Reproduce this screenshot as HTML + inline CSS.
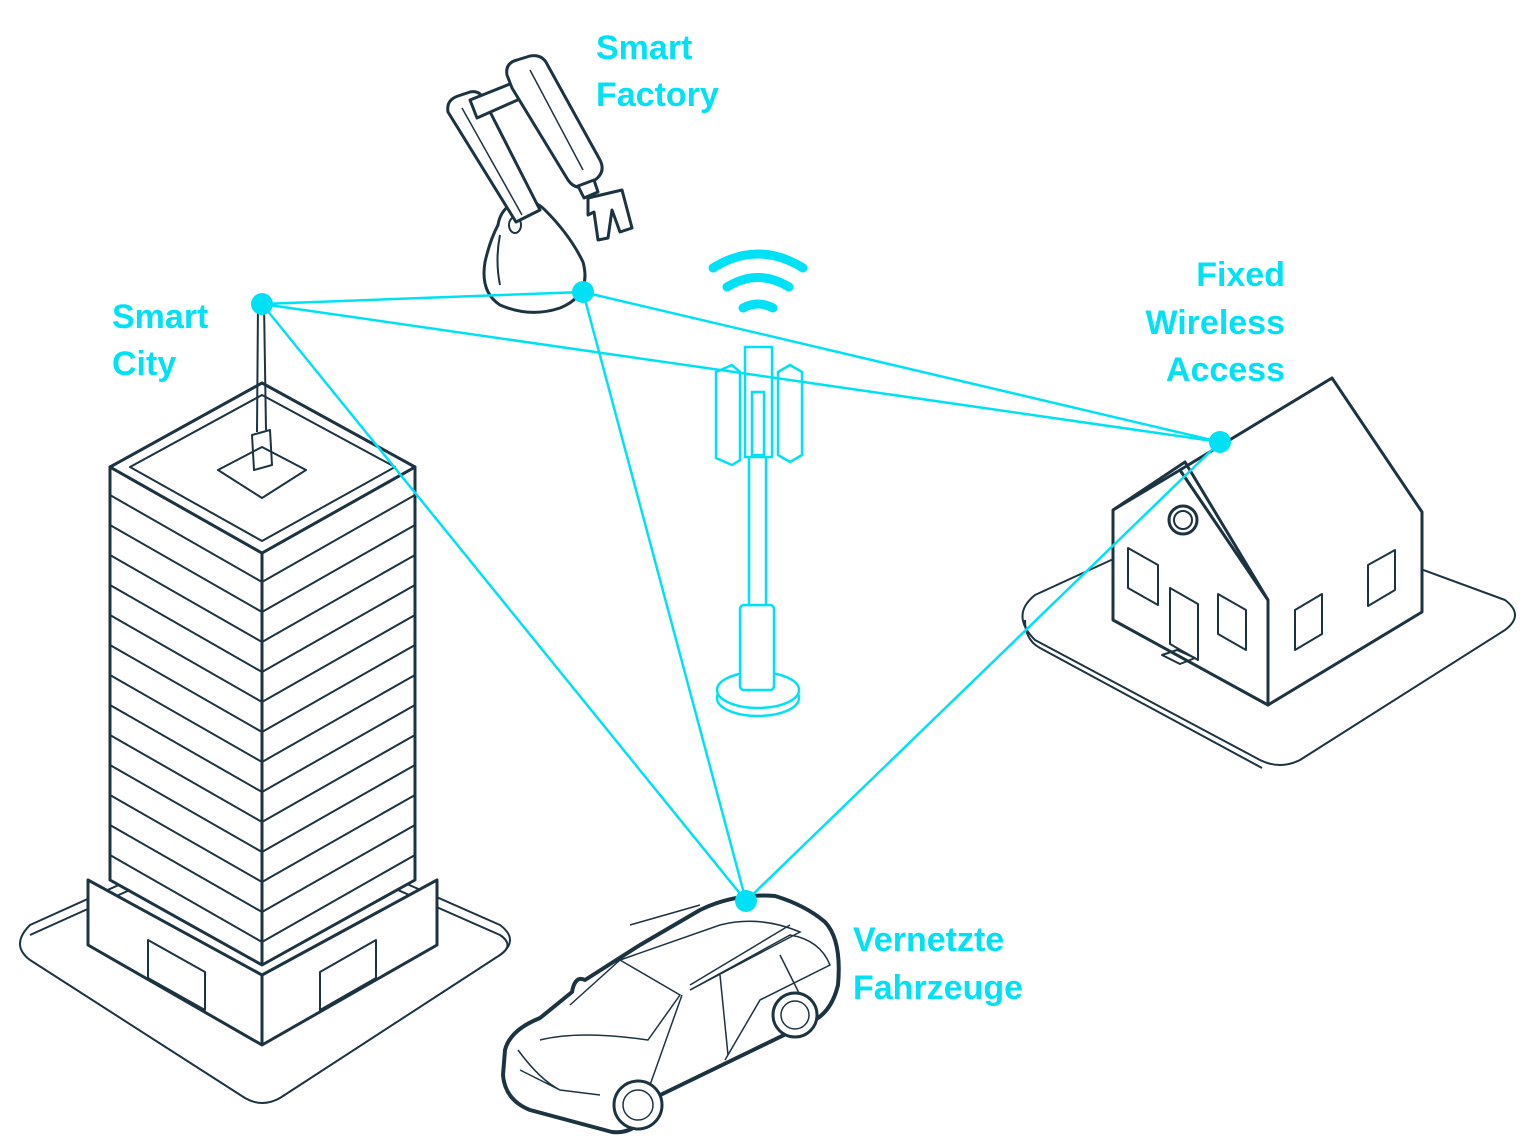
<!DOCTYPE html>
<html><head><meta charset="utf-8"><style>
html,body{margin:0;padding:0;background:#fff;}
svg{display:block}
text{font-family:"Liberation Sans",sans-serif;font-weight:bold;font-size:34px;fill:#00e1f5}
</style></head><body>
<svg width="1527" height="1144" viewBox="0 0 1527 1144" xmlns="http://www.w3.org/2000/svg">
<g fill="none" stroke="#1c3442" stroke-width="3" stroke-linejoin="round">
<!-- city platform -->
<path d="M30,925 L245,828 Q262,820 280,828 L500,925 Q520,940 500,955 L280,1098 Q262,1108 245,1098 L30,960 Q10,945 30,925Z" stroke-width="2"/>
<path d="M30,935 L245,838 Q262,830 280,838 L500,935 Q515,945 500,955" stroke-width="2"/>
<!-- base -->
<path d="M88,880 L262,975 L437,880 L437,945 L262,1045 L88,945Z" fill="#fff"/>
<path d="M262,975 L262,1045"/>
<path d="M148,940 L205,972 L205,1010 L148,978Z M320,972 L376,940 L376,978 L320,1010Z" stroke-width="2"/>
<!-- tower body -->
<path d="M110,467 L262,553 L415,467 L415,880 L262,965 L110,880Z" fill="#fff"/>
<path d="M262,553 L262,965"/>
<g stroke-width="2">
<path d="M110,495 L262,582 L415,495 M110,525 L262,612 L415,525 M110,555 L262,642 L415,555 M110,585 L262,672 L415,585 M110,615 L262,702 L415,615 M110,645 L262,732 L415,645 M110,675 L262,762 L415,675 M110,705 L262,792 L415,705 M110,735 L262,822 L415,735 M110,765 L262,852 L415,765 M110,795 L262,882 L415,795 M110,825 L262,912 L415,825 M110,855 L262,942 L415,855"/>
</g>
<!-- roof -->
<path d="M110,467 L262,383 L415,467 L262,553Z" fill="#fff"/>
<path d="M130,467 L262,395 L395,467 L262,541Z" stroke-width="2"/>
<path d="M218,470 L262,447 L306,470 L262,498Z" stroke-width="2"/>
<path d="M252,435 L270,430 L272,465 L254,470Z" stroke-width="2"/>
<path d="M257,432 L258,304 L264,304 L266,430" stroke-width="2"/>
<!-- house platform -->
<path d="M1035,595 L1220,510 Q1240,502 1260,510 L1505,600 Q1525,615 1505,630 L1300,760 Q1280,770 1260,760 L1035,640 Q1010,615 1035,595Z" stroke-width="2"/>
<path d="M1025,620 Q1025,640 1040,648 L1262,768" stroke-width="2"/>
<!-- house -->
<path d="M1113,510 L1180,470 L1268,600 L1268,705 L1113,620Z" fill="#fff"/>
<path d="M1180,470 L1332,378 L1422,512 L1422,612 L1268,705 L1268,600 L1180,470" fill="#fff"/>
<path d="M1113,510 L1185,462 L1268,600" />
<circle cx="1183" cy="520" r="14"/><circle cx="1183" cy="520" r="9" stroke-width="2"/>
<path d="M1128,548 L1158,565 L1158,605 L1128,588Z M1218,594 L1246,610 L1246,650 L1218,634Z M1295,610 L1322,594 L1322,634 L1295,650Z M1368,565 L1395,550 L1395,590 L1368,606Z M1170,588 L1198,604 L1198,660 L1170,644Z" stroke-width="2"/>
<path d="M1162,655 L1180,664 L1195,658 L1177,650Z" stroke-width="2"/>
<!-- robot -->
<path d="M510,205 Q530,195 545,210 Q570,235 583,262 Q592,295 560,308 Q530,318 500,305 Q480,292 485,262 Q490,240 498,225 Q500,212 510,205Z" fill="#fff"/>
<path d="M500,235 Q495,260 500,285" stroke-width="2"/>
<ellipse cx="515" cy="225" rx="6" ry="8" stroke-width="2"/>
<!-- left arm -->
<path d="M448,112 Q446,100 458,96 L470,92 Q480,90 484,100 L540,210 L516,222 Z" fill="#fff"/>
<path d="M462,108 L522,215" stroke-width="1.5"/>
<!-- crossbar -->
<path d="M470,100 L515,82 L522,98 L477,118Z" fill="#fff"/>
<!-- right arm -->
<path d="M507,75 Q505,63 517,60 L530,56 Q542,54 547,64 L600,160 Q606,172 595,180 L585,186 Q575,190 568,180 L512,88Z" fill="#fff"/>
<path d="M530,70 L583,170" stroke-width="1.5"/>
<path d="M578,186 L594,180 L598,192 L584,198Z" fill="#fff"/>
<path d="M588,198 L622,190 L632,228 L620,232 L612,210 L608,238 L598,240 L594,212 L588,215Z" fill="#fff"/>
</g>
<!-- car -->
<g fill="#fff" stroke="#1c3442" stroke-width="4" stroke-linejoin="round">
<path d="M505,1050 Q510,1030 540,1018 L572,992 Q575,975 585,980 L640,945 L700,910 Q735,893 775,896 Q805,905 825,922 Q842,940 838,985 Q832,1010 815,1020 L650,1100 Q642,1135 612,1132 L530,1110 Q505,1100 503,1075Z"/>
</g>
<g fill="none" stroke="#1c3442" stroke-width="1.5">
<path d="M570,1005 Q620,960 620,960 L680,995 L648,1040 Q580,1030 540,1040"/>
<path d="M620,960 L720,925 Q760,915 800,932 L690,990"/>
<path d="M690,990 L790,935 Q820,940 830,965 L760,1000 L725,1060"/>
<path d="M720,975 L728,1055 M780,955 L800,995 M682,995 L650,1085"/>
<path d="M520,1070 L560,1090 L600,1095 M518,1050 Q540,1080 560,1090"/>
<path d="M630,925 L700,905 M690,985 L790,925"/>
</g>
<g fill="#fff" stroke="#1c3442" stroke-width="3">
<circle cx="795" cy="1015" r="22"/><circle cx="638" cy="1105" r="24"/>
<circle cx="795" cy="1015" r="14" stroke-width="1.5"/><circle cx="638" cy="1105" r="15" stroke-width="1.5"/>
</g>
<!-- cell tower -->
<g fill="#fff" stroke="#00e1f5" stroke-width="2.5">
<ellipse cx="758" cy="698" rx="41" ry="18"/><ellipse cx="758" cy="690" rx="41" ry="18"/>
<rect x="740" y="605" width="34" height="85" rx="4"/>
<rect x="749" y="390" width="17" height="215"/>
<rect x="745" y="347" width="27" height="110"/>
<path d="M716,372 L732,365 L740,372 L740,460 L732,465 L716,458Z"/>
<path d="M778,372 L790,365 L802,372 L802,455 L790,462 L778,455Z"/>
<path d="M752,392 L764,392 L764,455 L752,455Z"/>
</g>
<g fill="none" stroke="#00e1f5" stroke-width="9" stroke-linecap="round">
<path d="M713,268 Q758,240 803,268"/><path d="M727,287 Q758,268 789,287"/><path d="M743,308 Q758,300 773,308"/>
</g>
<!-- connections -->
<g stroke="#00e1f5" stroke-width="2.5" fill="none">
<path d="M262,304 L583,292 L1220,442 L262,304 M262,304 L746,901 L583,292 M746,901 L1220,442"/>
</g>
<g fill="#00e1f5"><circle cx="262" cy="304" r="11"/><circle cx="583" cy="292" r="11"/><circle cx="1220" cy="442" r="11"/><circle cx="746" cy="901" r="11"/></g>
<text x="596" y="59">Smart</text><text x="596" y="106">Factory</text>
<text x="112" y="328">Smart</text><text x="112" y="375">City</text>
<text x="1285" y="286" text-anchor="end">Fixed</text><text x="1285" y="334" text-anchor="end">Wireless</text><text x="1285" y="381" text-anchor="end">Access</text>
<text x="853" y="951">Vernetzte</text><text x="853" y="999">Fahrzeuge</text>
</svg>
</body></html>
